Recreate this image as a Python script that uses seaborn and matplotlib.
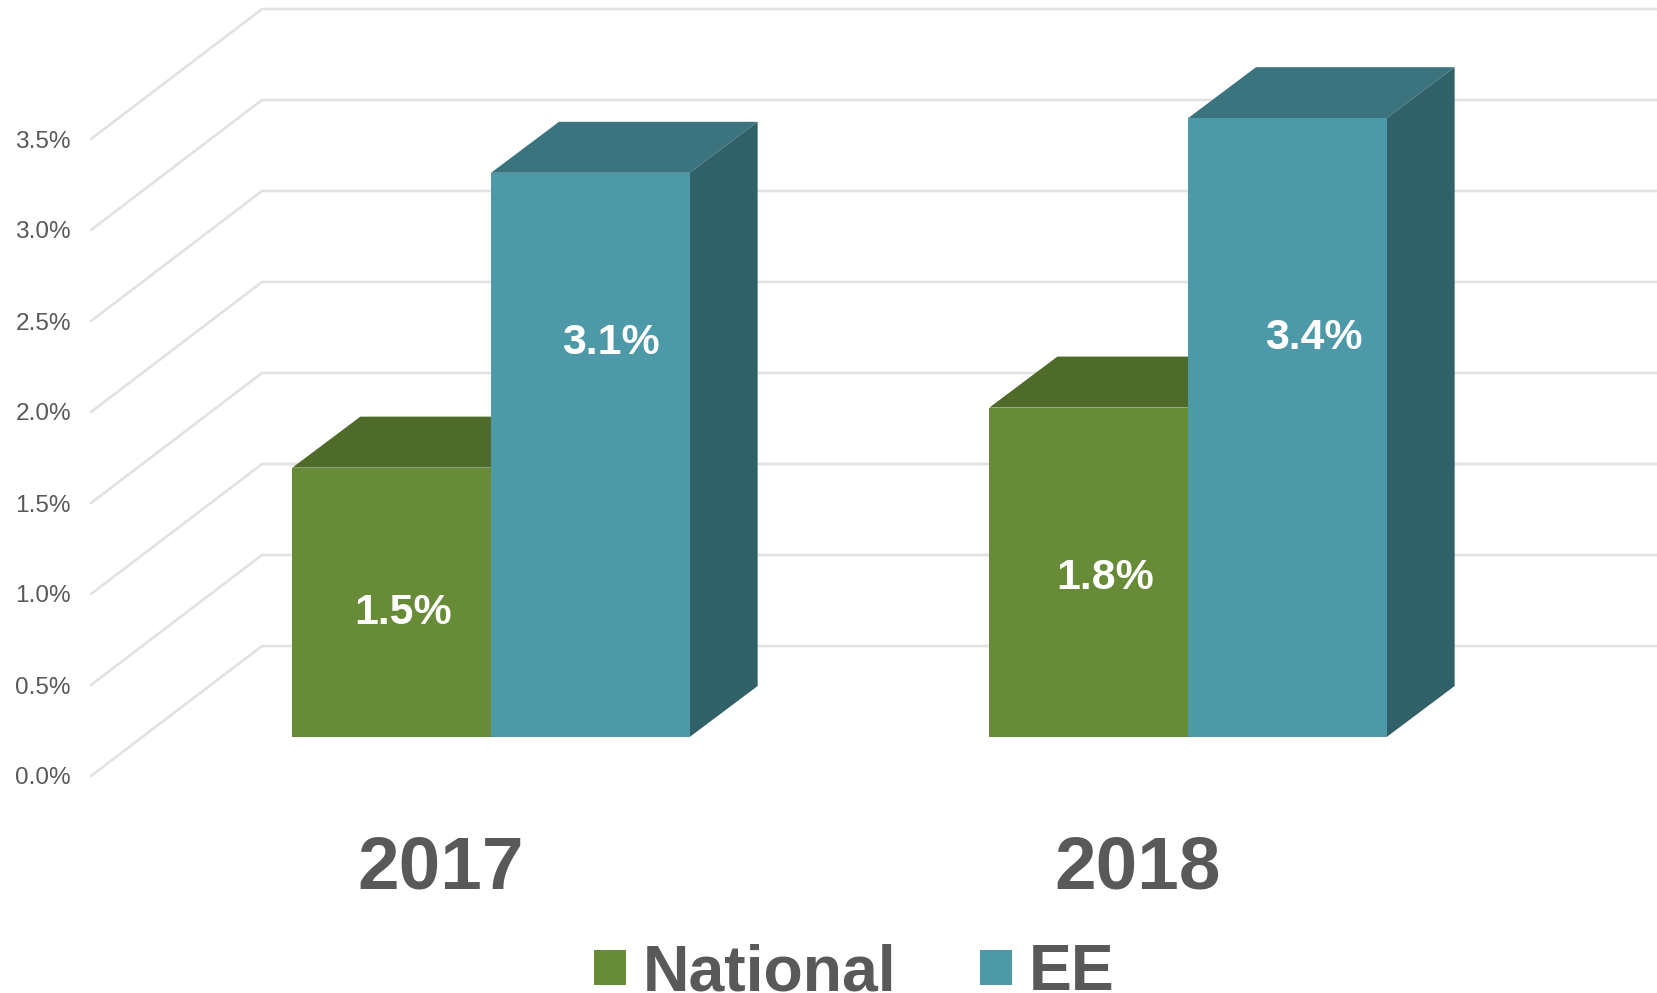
"""Pseudo-3D grouped bars: National vs EE, 2017 and 2018."""

import matplotlib

matplotlib.use("Agg")
import matplotlib.pyplot as plt
import pandas as pd
import seaborn as sns
from matplotlib.patches import Polygon

YEARS = ["2017", "2018"]
SERIES = ["National", "EE"]
NATIONAL = [1.48, 1.81]
EE = [3.10, 3.40]
LABELS = ["1.5%", "1.8%", "3.1%", "3.4%"]
TICKS = [0.0, 0.5, 1.0, 1.5, 2.0, 2.5, 3.0, 3.5]

FACE = {"National": "#688B38", "EE": "#4D99A8"}
TOP = {"National": "#4F6B2A", "EE": "#3B747F"}
SIDE = {"National": "#3F5522", "EE": "#316168"}
GRID = "#E2E2E2"
TEXT = "#595959"

# figure is laid out in pixels, the axes fills all of it
W, H = 1657, 993
PX_PER_GROUP = 697.0
PX_PER_UNIT = 182.0
X0_PX, Y0_PX = 491.0, 737.0


def dx(px):
    return px / PX_PER_GROUP


def dy(px):
    return px / PX_PER_UNIT


def xd(px):
    return (px - X0_PX) / PX_PER_GROUP


def yd(px):
    return (Y0_PX - px) / PX_PER_UNIT


sns.set_theme(style="white")
plt.rcParams["font.family"] = ["Liberation Sans", "DejaVu Sans"]

df = pd.DataFrame(
    {
        "year": YEARS * 2,
        "series": [SERIES[0]] * 2 + [SERIES[1]] * 2,
        "value": NATIONAL + EE,
    }
)

fig = plt.figure(figsize=(W / 100, H / 100), dpi=100)
ax = fig.add_axes([0, 0, 1, 1])
sns.barplot(
    data=df,
    x="year",
    y="value",
    hue="series",
    hue_order=SERIES,
    palette=FACE,
    width=0.57,
    gap=0,
    saturation=1,
    errorbar=None,
    linewidth=0,
    ax=ax,
)
ax.set_xlim(xd(0), xd(W))
ax.set_ylim(yd(H), yd(0))
ax.axis("off")

# walls: slanted side lines plus horizontal lines on the back wall
for t in TICKS:
    y_front = yd(776) + t
    y_back = yd(646) + t
    ax.plot([xd(91), xd(262), xd(W)], [y_front, y_back, y_back],
            color=GRID, lw=1.9, zorder=1, solid_joinstyle="miter")
    ax.text(xd(71), y_front - dy(2.5), f"{t:.1f}%", ha="right", va="center",
            fontsize=17.6, color=TEXT)

# extrude each bar from the rectangle seaborn drew
depth_x, depth_y = dx(68), dy(51)
for name, container in zip(SERIES, ax.containers):
    for bar in container:
        bar.set_zorder(3)
        x0, x1 = bar.get_x(), bar.get_x() + bar.get_width()
        top = bar.get_height()
        ax.add_patch(Polygon(
            [(x0, top), (x1, top), (x1 + depth_x, top + depth_y), (x0 + depth_x, top + depth_y)],
            closed=True, facecolor=TOP[name], edgecolor="none", zorder=2))
        ax.add_patch(Polygon(
            [(x1, 0), (x1 + depth_x, depth_y), (x1 + depth_x, top + depth_y), (x1, top)],
            closed=True, facecolor=SIDE[name], edgecolor="none", zorder=2))

# value labels sit off centre in the source, offsets are in pixels
bars = list(ax.containers[0]) + list(ax.containers[1])
offsets = [(11, 11), (16, 6), (21, -112), (26, -90)]
for bar, text, (ox, oy) in zip(bars, LABELS, offsets):
    ax.text(bar.get_x() + bar.get_width() / 2 + dx(ox),
            bar.get_height() / 2 - dy(oy),
            text, ha="center", va="center", color="white",
            fontsize=30.8, fontweight="bold", zorder=4)

for i, year in enumerate(YEARS):
    ax.text(i - dx(50), yd(869), year, ha="center", va="center",
            color=TEXT, fontsize=53.8, fontweight="bold")

handles, names = ax.get_legend_handles_labels()
if ax.get_legend() is not None:
    ax.get_legend().remove()
fig.legend(
    handles, names,
    loc="lower left",
    bbox_to_anchor=(594 / W, -10.5 / H),
    ncols=2,
    frameon=False,
    prop={"weight": "bold", "size": 46.4},
    labelcolor=TEXT,
    handlelength=0.5,
    handleheight=0.46,
    handletextpad=0.26,
    columnspacing=1.29,
    borderpad=0,
    borderaxespad=0,
)

fig.savefig("out.png", dpi=100)
plt.close(fig)
